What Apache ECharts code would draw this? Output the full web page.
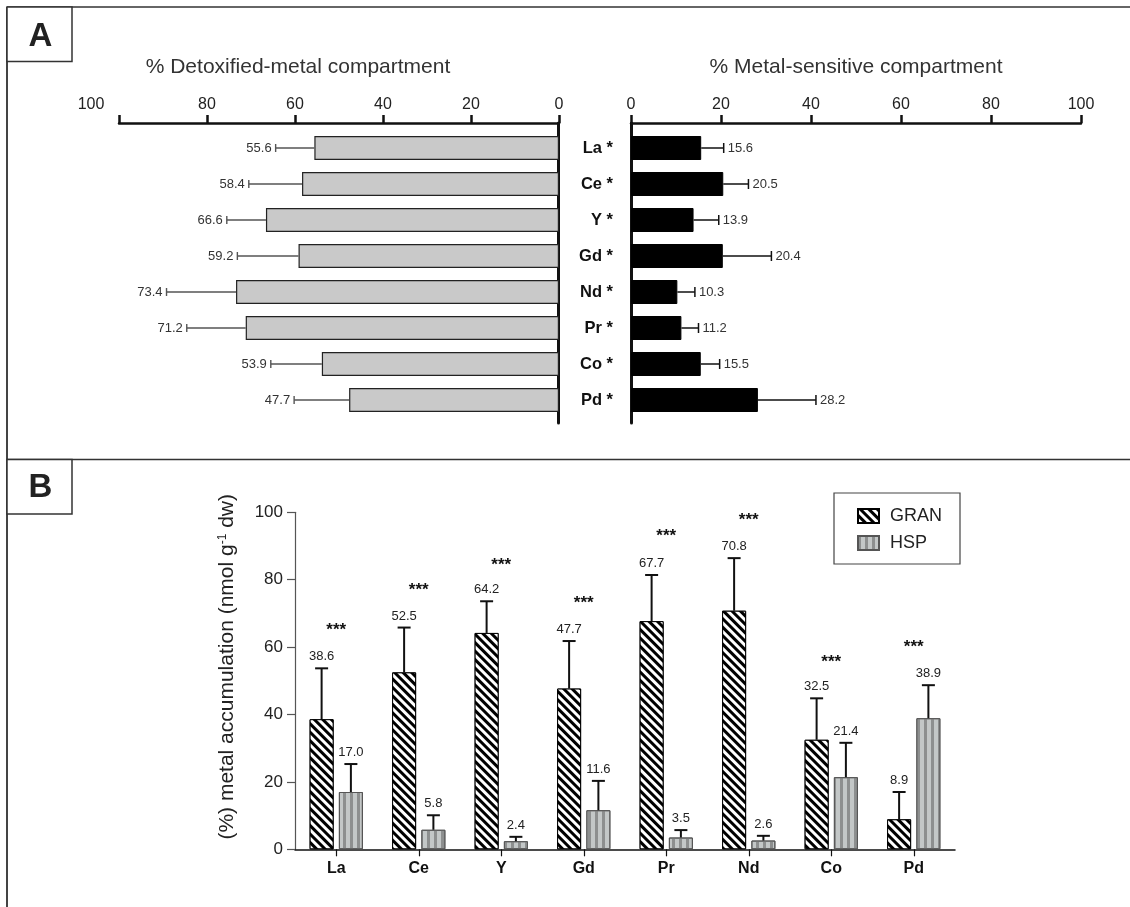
<!DOCTYPE html>
<html>
<head>
<meta charset="utf-8">
<script src="https://cdn.jsdelivr.net/npm/echarts@6/dist/echarts.min.js"></script>
<style>
  html, body { margin: 0; padding: 0; background: #fff; }
  #chart { width: 1130px; height: 907px; }
</style>
</head>
<body>
<div id="chart"></div>
<script>
// ---- Panel A: subcellular partitioning (% of total metal) ----
const elementsA = ['La', 'Ce', 'Y', 'Gd', 'Nd', 'Pr', 'Co', 'Pd'];
const detoxified = [55.6, 58.4, 66.6, 59.2, 73.4, 71.2, 53.9, 47.7];
const detoxifiedSD = [8.8, 12.1, 8.9, 13.9, 15.8, 13.4, 11.6, 12.5];
const sensitive = [15.6, 20.5, 13.9, 20.4, 10.3, 11.2, 15.5, 28.2];
const sensitiveSD = [5.0, 5.6, 5.6, 10.8, 3.9, 3.8, 4.2, 12.9];
const percentMax = 100;
const percentStep = 20;

// ---- Panel B: metal accumulation in granules (GRAN) and heat-stable proteins (HSP) ----
const elementsB = ['La', 'Ce', 'Y', 'Gd', 'Pr', 'Nd', 'Co', 'Pd'];
const gran = [38.6, 52.5, 64.2, 47.7, 67.7, 70.8, 32.5, 8.9];
const granSD = [15.1, 13.3, 9.4, 14.1, 13.7, 15.6, 12.3, 8.1];
const hsp = [17.0, 5.8, 2.4, 11.6, 3.5, 2.6, 21.4, 38.9];
const hspSD = [8.3, 4.3, 1.3, 8.7, 2.2, 1.4, 10.2, 9.8];
const starLevel = [65.8, 77.6, 85.3, 74.0, 93.8, 98.5, 56.5, 60.8];
const starText = '***';

const FONT = '"Liberation Sans", Arial, Helvetica, sans-serif';
const BAR_W = 24;
const BAR_GAP = '22%';

// horizontal error bar (whisker away from zero) with value label beyond the cap
function hErrorBar(side, stroke, lineWidth, capH) {
  return function (params, api) {
    const i = api.value(0), v = api.value(1), e = api.value(2);
    const a = api.coord([v, i]);
    const b = api.coord([v + e, i]);
    return {
      type: 'group',
      children: [
        { type: 'line', shape: { x1: a[0], y1: a[1], x2: b[0], y2: b[1] },
          style: { stroke: stroke, lineWidth: lineWidth } },
        { type: 'line', shape: { x1: b[0], y1: b[1] - capH / 2, x2: b[0], y2: b[1] + capH / 2 },
          style: { stroke: stroke, lineWidth: lineWidth } },
        { type: 'text',
          style: { text: v.toFixed(1), x: b[0] + side * 4, y: b[1] + 0.5,
                   align: side < 0 ? 'right' : 'left', verticalAlign: 'middle',
                   fontFamily: FONT, fontSize: 13, fill: '#333' } }
      ]
    };
  };
}

// vertical (upper) error bar for one bar of the grouped pair
function vErrorBar(slot) {
  return function (params, api) {
    const i = api.value(0), v = api.value(1), e = api.value(2);
    let off;
    const lay = api.barLayout ? api.barLayout({ count: 2, barWidth: BAR_W, barGap: BAR_GAP }) : null;
    if (lay && lay[slot]) {
      off = lay[slot].offsetCenter;
    } else {
      off = (slot === 0 ? -1 : 1) * (BAR_W + BAR_W * 0.22) / 2;
    }
    const base = api.coord([i, v]);
    const top = api.coord([i, v + e]);
    const x = base[0] + off;
    return {
      type: 'group',
      children: [
        { type: 'line', shape: { x1: x, y1: base[1], x2: x, y2: top[1] },
          style: { stroke: '#111', lineWidth: 2 } },
        { type: 'line', shape: { x1: x - 6.5, y1: top[1], x2: x + 6.5, y2: top[1] },
          style: { stroke: '#111', lineWidth: 2 } },
        { type: 'text',
          style: { text: v.toFixed(1), x: x, y: top[1] - 5, align: 'center', verticalAlign: 'bottom',
                   fontFamily: FONT, fontSize: 13, fill: '#222' } }
      ]
    };
  };
}

function starMark(params, api) {
  const i = api.value(0), v = api.value(1);
  const p = api.coord([i, v]);
  return {
    type: 'text',
    style: { text: starText, x: p[0], y: p[1] + 3, align: 'center', verticalAlign: 'middle',
             fontFamily: FONT, fontSize: 17, fontWeight: 'bold', fill: '#111' }
  };
}

const spineAxis = (gridIndex) => ({
  gridIndex: gridIndex, type: 'value', min: 0, max: 1,
  axisLine: { show: true, onZero: false, lineStyle: { color: '#111', width: 3 } },
  axisTick: { show: false }, axisLabel: { show: false }, splitLine: { show: false }
});
const hiddenAxis = (gridIndex) => ({ gridIndex: gridIndex, type: 'value', show: false, min: 0, max: 1 });

const topPercentAxis = (gridIndex, inverse, title, titleShift) => ({
  gridIndex: gridIndex, type: 'value', min: 0, max: percentMax, interval: percentStep,
  inverse: inverse, position: 'top', offset: 7,
  name: title, nameLocation: 'middle', nameGap: 45,
  nameTextStyle: { fontFamily: FONT, fontSize: 21, color: '#333', padding: [0, titleShift, 0, 0] },
  axisLine: { show: true, onZero: false, lineStyle: { color: '#111', width: 2.5 } },
  axisTick: { show: true, inside: false, length: 8, lineStyle: { color: '#111', width: 2.5 } },
  axisLabel: {
    show: true, fontFamily: FONT, fontSize: 16, color: '#222', margin: 10,
    formatter: (v) => (inverse && v === percentMax) ? '{far|' + v + '}' : String(v),
    rich: { far: { fontFamily: FONT, fontSize: 16, color: '#222', padding: [0, 56, 0, 0] } }
  },
  splitLine: { show: false }
});

const option = {
  animation: false,
  backgroundColor: '#fff',
  textStyle: { fontFamily: FONT },
  grid: [
    { left: 119, top: 130, width: 440, height: 288, outerBoundsMode: 'none' },
    { left: 631, top: 130, width: 450, height: 288, outerBoundsMode: 'none' },
    { left: 558.5, top: 123, width: 1, height: 300, outerBoundsMode: 'none' },
    { left: 631, top: 123, width: 1, height: 300, outerBoundsMode: 'none' },
    { left: 295, top: 512.3, width: 660, height: 337, outerBoundsMode: 'none' }
  ],
  xAxis: [
    topPercentAxis(0, true, '% Detoxified-metal compartment', 82),
    topPercentAxis(1, false, '% Metal-sensitive compartment', 0),
    hiddenAxis(2),
    hiddenAxis(3),
    {
      gridIndex: 4, type: 'category', data: elementsB,
      axisLine: { show: true, lineStyle: { color: '#111', width: 1.5 } },
      axisTick: { show: true, alignWithLabel: true, length: 7, lineStyle: { color: '#111', width: 1.2 } },
      axisLabel: { fontFamily: FONT, fontSize: 16, fontWeight: 'bold', color: '#111', margin: 11 },
      splitLine: { show: false }
    }
  ],
  yAxis: [
    { gridIndex: 0, type: 'category', data: elementsA, inverse: true, position: 'right',
      axisLine: { show: false }, axisTick: { show: false }, axisLabel: { show: false } },
    { gridIndex: 1, type: 'category', data: elementsA, inverse: true, position: 'left',
      axisLine: { show: false }, axisTick: { show: false },
      axisLabel: { fontFamily: FONT, fontSize: 16.5, fontWeight: 'bold', color: '#111', margin: 18,
                   formatter: (v) => v + ' *' } },
    spineAxis(2),
    spineAxis(3),
    {
      gridIndex: 4, type: 'value', min: 0, max: 100, interval: 20,
      name: '(%) metal accumulation (nmol g{sup|-1} dw)', nameLocation: 'middle', nameGap: 57,
      nameTextStyle: {
        fontFamily: FONT, fontSize: 21, color: '#222', padding: [0, 0, 0, 28],
        rich: { sup: { fontFamily: FONT, fontSize: 12, color: '#222', verticalAlign: 'top', lineHeight: 19 } }
      },
      axisLine: { show: true, onZero: false, lineStyle: { color: '#555', width: 1.2 } },
      axisTick: { show: true, length: 8, lineStyle: { color: '#555', width: 1.2 } },
      axisLabel: { fontFamily: FONT, fontSize: 17, color: '#222', margin: 12 },
      splitLine: { show: false }
    }
  ],
  legend: {
    data: ['GRAN', 'HSP'], orient: 'vertical', left: 834, top: 493,
    padding: [14, 18, 12, 23], itemWidth: 21, itemHeight: 14, itemGap: 9,
    backgroundColor: '#fff', borderColor: '#444', borderWidth: 1.2, borderRadius: 0,
    selectedMode: false, icon: 'rect',
    textStyle: { fontFamily: FONT, fontSize: 18, color: '#222', padding: [0, 0, 0, 6] }
  },
  series: [
    { name: 'detoxified', type: 'bar', xAxisIndex: 0, yAxisIndex: 0, data: detoxified, barWidth: BAR_W,
      itemStyle: { color: '#c9c9c9', borderColor: '#222', borderWidth: 1.2 }, silent: true, z: 2 },
    { type: 'custom', xAxisIndex: 0, yAxisIndex: 0, encode: { x: 1, y: 0 }, z: 3, silent: true,
      data: elementsA.map((c, i) => [i, detoxified[i], detoxifiedSD[i]]),
      renderItem: hErrorBar(-1, '#555', 1.4, 8) },
    { name: 'sensitive', type: 'bar', xAxisIndex: 1, yAxisIndex: 1, data: sensitive, barWidth: BAR_W,
      itemStyle: { color: '#000', borderColor: '#000', borderWidth: 1 }, silent: true, z: 2 },
    { type: 'custom', xAxisIndex: 1, yAxisIndex: 1, encode: { x: 1, y: 0 }, z: 3, silent: true,
      data: elementsA.map((c, i) => [i, sensitive[i], sensitiveSD[i]]),
      renderItem: hErrorBar(1, '#111', 1.5, 10) },

    { name: 'GRAN', type: 'bar', xAxisIndex: 4, yAxisIndex: 4, data: gran,
      barWidth: BAR_W, barGap: BAR_GAP, silent: true, z: 2,
      itemStyle: {
        color: '#000', borderColor: '#000', borderWidth: 1,
        decal: { symbol: 'rect', symbolSize: 1, color: '#fff', dashArrayX: [1, 0], dashArrayY: [2.2, 2.2],
                 rotation: Math.PI / 4 }
      } },
    { name: 'HSP', type: 'bar', xAxisIndex: 4, yAxisIndex: 4, data: hsp,
      barWidth: BAR_W, barGap: BAR_GAP, silent: true, z: 2,
      itemStyle: {
        color: '#c3c7c7', borderColor: '#555', borderWidth: 1,
        decal: { symbol: 'rect', symbolSize: 1, color: '#8d8f8f', dashArrayX: [3, 4], dashArrayY: [1, 0],
                 rotation: 0 }
      } },
    { type: 'custom', xAxisIndex: 4, yAxisIndex: 4, encode: { x: 0, y: 1 }, z: 3, silent: true,
      data: elementsB.map((c, i) => [i, gran[i], granSD[i]]), renderItem: vErrorBar(0) },
    { type: 'custom', xAxisIndex: 4, yAxisIndex: 4, encode: { x: 0, y: 1 }, z: 3, silent: true,
      data: elementsB.map((c, i) => [i, hsp[i], hspSD[i]]), renderItem: vErrorBar(1) },
    { type: 'custom', xAxisIndex: 4, yAxisIndex: 4, encode: { x: 0, y: 1 }, z: 3, silent: true,
      data: elementsB.map((c, i) => [i, starLevel[i]]), renderItem: starMark }
  ],
  graphic: [
    { type: 'line', shape: { x1: 7, y1: 7, x2: 1130, y2: 7 }, style: { stroke: '#333', lineWidth: 1.5 }, silent: true },
    { type: 'line', shape: { x1: 7, y1: 7, x2: 7, y2: 907 }, style: { stroke: '#444', lineWidth: 2 }, silent: true },
    { type: 'line', shape: { x1: 7, y1: 459.5, x2: 1130, y2: 459.5 }, style: { stroke: '#333', lineWidth: 1.5 }, silent: true },
    { type: 'rect', shape: { x: 7, y: 7, width: 65, height: 54.5 }, style: { fill: '#fff', stroke: '#333', lineWidth: 1.5 }, silent: true },
    { type: 'text', style: { text: 'A', x: 40.5, y: 37, align: 'center', verticalAlign: 'middle',
        fontFamily: FONT, fontSize: 33, fontWeight: 'bold', fill: '#222' }, silent: true },
    { type: 'rect', shape: { x: 7, y: 459.5, width: 65, height: 54.5 }, style: { fill: '#fff', stroke: '#333', lineWidth: 1.5 }, silent: true },
    { type: 'text', style: { text: 'B', x: 40.5, y: 488, align: 'center', verticalAlign: 'middle',
        fontFamily: FONT, fontSize: 33, fontWeight: 'bold', fill: '#222' }, silent: true }
  ]
};

const chart = echarts.init(document.getElementById('chart'), null, { renderer: 'canvas' });
chart.setOption(option);
</script>
</body>
</html>
